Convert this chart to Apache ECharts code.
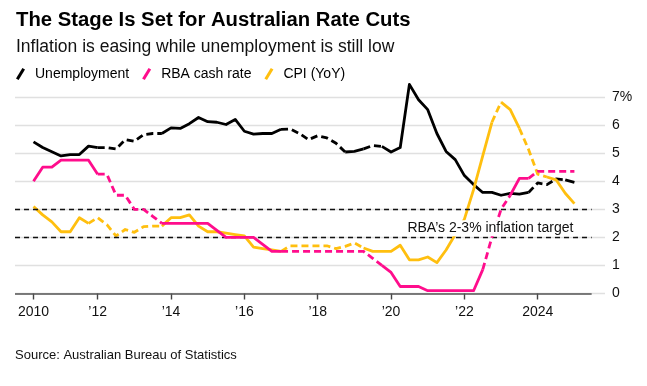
<!DOCTYPE html>
<html><head><meta charset="utf-8">
<script src="https://cdn.jsdelivr.net/npm/echarts@6/dist/echarts.min.js"></script>
<style>html,body{margin:0;padding:0;background:#fff}#c{width:647px;height:386px}</style>
</head><body><div id="c"></div><script>
// ---- data ----
const quarters = [
  '2010-03','2010-06','2010-09','2010-12','2011-03','2011-06','2011-09','2011-12',
  '2012-03','2012-06','2012-09','2012-12','2013-03','2013-06','2013-09','2013-12',
  '2014-03','2014-06','2014-09','2014-12','2015-03','2015-06','2015-09','2015-12',
  '2016-03','2016-06','2016-09','2016-12','2017-03','2017-06','2017-09','2017-12',
  '2018-03','2018-06','2018-09','2018-12','2019-03','2019-06','2019-09','2019-12',
  '2020-03','2020-06','2020-09','2020-12','2021-03','2021-06','2021-09','2021-12',
  '2022-03','2022-06','2022-09','2022-12','2023-03','2023-06','2023-09','2023-12',
  '2024-03','2024-06','2024-09','2024-12'
];
const unemployment = [
  5.4, 5.2, 5.05, 4.9, 4.95, 4.95, 5.25, 5.2, 5.2, 5.15,
  5.48, 5.42, 5.66, 5.7, 5.7, 5.9, 5.88, 6.05, 6.27, 6.12,
  6.1, 6.02, 6.2, 5.78, 5.68, 5.7, 5.7, 5.85, 5.86, 5.7,
  5.48, 5.62, 5.54, 5.35, 5.04, 5.06, 5.15, 5.27, 5.24, 5.04,
  5.2, 7.45, 6.9, 6.55, 5.7, 5.06, 4.77, 4.2, 3.88, 3.6,
  3.6, 3.5, 3.57, 3.54, 3.6, 3.94, 3.88, 4.08, 4.05, 3.96
];
const cashRate = [
  4.0, 4.5, 4.5, 4.75, 4.75, 4.75, 4.75, 4.25, 4.25, 3.5,
  3.5, 3.0, 3.0, 2.75, 2.5, 2.5, 2.5, 2.5, 2.5, 2.5,
  2.25, 2.0, 2.0, 2.0, 2.0, 1.75, 1.5, 1.5, 1.5, 1.5,
  1.5, 1.5, 1.5, 1.5, 1.5, 1.5, 1.5, 1.25, 1.0, 0.75,
  0.25, 0.25, 0.25, 0.1, 0.1, 0.1, 0.1, 0.1, 0.1, 0.85,
  2.0, 3.0, 3.5, 4.1, 4.1, 4.35, 4.35, 4.35, 4.35, 4.35
];
const cpi = [
  3.1, 2.8, 2.55, 2.2, 2.2, 2.7, 2.5, 2.7, 2.45, 2.05,
  2.28, 2.18, 2.38, 2.4, 2.4, 2.7, 2.7, 2.8, 2.4, 2.2,
  2.2, 2.15, 2.1, 2.05, 1.65, 1.6, 1.55, 1.5, 1.7, 1.7,
  1.7, 1.7, 1.7, 1.6, 1.68, 1.8, 1.62, 1.5, 1.5, 1.5,
  1.72, 1.2, 1.2, 1.3, 1.1, 1.55, 2.1, 2.65, 3.7, 4.9,
  6.1, 6.82, 6.55, 5.88, 5.13, 4.25, 4.15, 4.05, 3.57, 3.2
];
// index ranges drawn dashed in the source picture
const unemploymentDashed = [[7,14],[27,34],[36,38],[54,58]];
const cashRateDashed = [[7,14],[27,38],[49,52],[54,59]];
const cpiDashed = [[6,14],[27,36],[50,51],[53,56]];
const xTickLabels = ['2010', '\u201912', '\u201914', '\u201916', '\u201918', '\u201920', '\u201922', '2024'];
const xTickValues = [2010.25, 2012, 2014, 2016, 2018, 2020, 2022, 2024];
const targetBand = [2, 3];
const names = ['Unemployment', 'RBA cash rate', 'CPI (YoY)'];

// ---- build ----
const FONT = '"Liberation Sans", Arial, Helvetica, sans-serif';
const COLORS = ['#000000', '#ff0d8c', '#ffbf0f'];
const toYear = q => { const p = q.split('-').map(Number); return p[0] + p[1] / 12; };
const xs = quarters.map(toYear);
const X_MIN = 2009.745, X_MAX = 2025.834, X_LINE_END = 2025.47;

function runs(n, dashed) {
  const out = []; let start = 0;
  dashed.slice().sort((p, q) => p[0] - q[0]).forEach(([a, b]) => {
    if (a > start) out.push({a: start, b: a, dash: false});
    out.push({a, b, dash: true});
    start = b;
  });
  if (start < n - 1) out.push({a: start, b: n - 1, dash: false});
  return out;
}
function build(name, vals, dashed, color, z) {
  return runs(vals.length, dashed).map(r => ({
    type: 'line', name, z,
    data: xs.slice(r.a, r.b + 1).map((x, k) => [x, vals[r.a + k]]),
    showSymbol: false, symbol: 'none', clip: false, silent: true,
    lineStyle: {color, width: 2.8, type: r.dash ? [7, 4] : 'solid', cap: 'butt', join: 'round'},
    itemStyle: {color},
    emphasis: {disabled: true}
  }));
}

const ICON = 'path://M0,10.5 L6.4,0 L9,1.5 L2.6,12 Z';
const series = [].concat(
  build(names[0], unemployment, unemploymentDashed, COLORS[0], 3),
  build(names[2], cpi, cpiDashed, COLORS[2], 4),
  build(names[1], cashRate, cashRateDashed, COLORS[1], 5)
);
series.push({
  type: 'line', name: '_ref', data: [], silent: true, z: 2,
  markLine: {
    silent: true, symbol: 'none', animation: false, label: {show: false},
    data: [
      [{coord: [X_MIN, targetBand[1]], lineStyle: {type: [5, 4], color: '#111', width: 1.3}}, {coord: [X_LINE_END, targetBand[1]]}],
      [{coord: [X_MIN, targetBand[0]], lineStyle: {type: [5, 4], color: '#111', width: 1.3}}, {coord: [X_LINE_END, targetBand[0]]}],
      [{coord: [X_MIN, 0], lineStyle: {type: 'solid', color: '#555', width: 1.6}}, {coord: [X_LINE_END, 0]}]
    ]
  }
});

const chart = echarts.init(document.getElementById('c'), null, {renderer: 'canvas'});
chart.setOption({
  animation: false,
  backgroundColor: '#ffffff',
  grid: {left: 15, right: 42, top: 97, bottom: 92.5, containLabel: false},
  legend: {
    left: 16, top: 67, padding: 0, itemWidth: 9, itemHeight: 12, itemGap: 13,
    selectedMode: false,
    data: names.map(n => ({name: n, icon: ICON})),
    textStyle: {fontSize: 14, color: '#000', fontFamily: FONT, padding: [0, 0, 0, 5]}
  },
  xAxis: {
    type: 'value', min: X_MIN, max: X_MAX,
    axisLine: {show: false},
    splitLine: {show: false},
    axisTick: {show: true, customValues: xTickValues, length: 6, lineStyle: {color: '#444', width: 1.4}},
    axisLabel: {
      customValues: xTickValues, margin: 12, fontSize: 14, color: '#111', fontFamily: FONT,
      formatter: v => xTickLabels[xTickValues.indexOf(v)]
    }
  },
  yAxis: {
    type: 'value', position: 'right', min: 0, max: 7, interval: 1,
    axisLine: {show: false}, axisTick: {show: false},
    splitLine: {show: true, lineStyle: {color: '#e0e0e0', width: 1.4}},
    axisLabel: {
      margin: 7, fontSize: 14, color: '#111', fontFamily: FONT, align: 'left',
      formatter: v => v === 7 ? '7%' : String(v)
    }
  },
  series
});

const tp = chart.convertToPixel({gridIndex: 0}, [2025.0, (targetBand[0] + targetBand[1]) / 2]);
chart.setOption({
  graphic: [
    {type: 'text', left: 16, top: 10, style: {text: 'The Stage Is Set for Australian Rate Cuts', font: 'bold 20.3px ' + FONT, fill: '#000'}},
    {type: 'text', left: 16, top: 38, style: {text: 'Inflation is easing while unemployment is still low', font: '17.5px ' + FONT, fill: '#111'}},
    {type: 'text', left: 15, top: 349, style: {text: 'Source: Australian Bureau of Statistics', font: '13px ' + FONT, fill: '#111'}},
    {type: 'text', x: tp[0] + 1, y: tp[1] + 5, z: 100,
     style: {text: 'RBA\u2019s 2-3% inflation target', font: '14px ' + FONT, fill: '#111', textAlign: 'right', textVerticalAlign: 'middle',
             backgroundColor: '#fff', padding: [1, 2, 1, 2]}}
  ]
});
</script></body></html>
